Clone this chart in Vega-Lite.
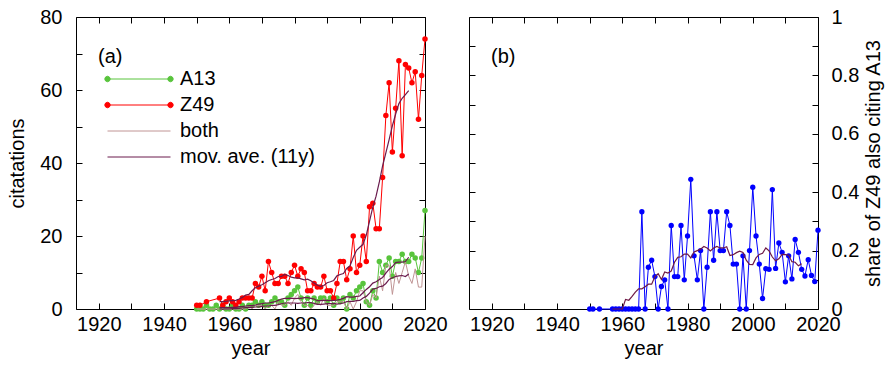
{
  "$schema": "https://vega.github.io/schema/vega-lite/v6.json",
  "padding": {"left": 7, "top": 6, "right": 5, "bottom": 5},
  "background": "white",
  "spacing": 44,
  "bounds": "flush",
  "config": {
    "view": {"stroke": "black", "strokeWidth": 1},
    "font": "Liberation Sans",
    "axis": {"labelFont": "Liberation Sans", "labelFontSize": 20, "titleFont": "Liberation Sans", "titleFontSize": 20, "titleFontWeight": "normal", "labelColor": "black", "titleColor": "black", "tickColor": "black", "tickWidth": 1, "tickSize": -6, "domain": false, "grid": false, "labelFlush": false, "labelOverlap": false}
  },
  "resolve": {"scale": {"color": "independent"}, "legend": {"color": "independent"}},
  "datasets": {
    "cites": [
      {"year":1950,"series":"A13","value":0},{"year":1951,"series":"A13","value":0},{"year":1952,"series":"A13","value":0},{"year":1953,"series":"A13","value":1},{"year":1954,"series":"A13","value":0},{"year":1955,"series":"A13","value":0},{"year":1956,"series":"A13","value":1},{"year":1957,"series":"A13","value":0},{"year":1958,"series":"A13","value":1},{"year":1959,"series":"A13","value":0},
      {"year":1960,"series":"A13","value":0},{"year":1961,"series":"A13","value":1},{"year":1962,"series":"A13","value":0},{"year":1963,"series":"A13","value":0},{"year":1964,"series":"A13","value":1},{"year":1965,"series":"A13","value":0},{"year":1966,"series":"A13","value":1},{"year":1967,"series":"A13","value":1},{"year":1968,"series":"A13","value":2},{"year":1969,"series":"A13","value":1},
      {"year":1970,"series":"A13","value":2},{"year":1971,"series":"A13","value":1},{"year":1972,"series":"A13","value":1},{"year":1973,"series":"A13","value":2},{"year":1974,"series":"A13","value":3},{"year":1975,"series":"A13","value":2},{"year":1976,"series":"A13","value":2},{"year":1977,"series":"A13","value":1},{"year":1978,"series":"A13","value":3},{"year":1979,"series":"A13","value":4},
      {"year":1980,"series":"A13","value":5},{"year":1981,"series":"A13","value":6},{"year":1982,"series":"A13","value":3},{"year":1983,"series":"A13","value":1},{"year":1984,"series":"A13","value":3},{"year":1985,"series":"A13","value":1},{"year":1986,"series":"A13","value":3},{"year":1987,"series":"A13","value":2},{"year":1988,"series":"A13","value":3},{"year":1989,"series":"A13","value":3},
      {"year":1990,"series":"A13","value":2},{"year":1991,"series":"A13","value":3},{"year":1992,"series":"A13","value":1},{"year":1993,"series":"A13","value":3},{"year":1994,"series":"A13","value":2},{"year":1995,"series":"A13","value":3},{"year":1996,"series":"A13","value":0},{"year":1997,"series":"A13","value":4},{"year":1998,"series":"A13","value":3},{"year":1999,"series":"A13","value":5},
      {"year":2000,"series":"A13","value":6},{"year":2001,"series":"A13","value":7},{"year":2002,"series":"A13","value":2},{"year":2003,"series":"A13","value":1},{"year":2004,"series":"A13","value":5},{"year":2005,"series":"A13","value":3},{"year":2006,"series":"A13","value":13},{"year":2007,"series":"A13","value":10},{"year":2008,"series":"A13","value":12},{"year":2009,"series":"A13","value":14},
      {"year":2010,"series":"A13","value":9},{"year":2011,"series":"A13","value":13},{"year":2012,"series":"A13","value":13},{"year":2013,"series":"A13","value":15},{"year":2014,"series":"A13","value":13},{"year":2015,"series":"A13","value":13},{"year":2016,"series":"A13","value":15},{"year":2017,"series":"A13","value":14},{"year":2018,"series":"A13","value":10},{"year":2019,"series":"A13","value":14},{"year":2020,"series":"A13","value":27},
      {"year":1950,"series":"Z49","value":1},{"year":1951,"series":"Z49","value":1},{"year":1953,"series":"Z49","value":2},{"year":1957,"series":"Z49","value":3},{"year":1958,"series":"Z49","value":1},{"year":1959,"series":"Z49","value":2},
      {"year":1960,"series":"Z49","value":3},{"year":1961,"series":"Z49","value":2},{"year":1962,"series":"Z49","value":1},{"year":1963,"series":"Z49","value":2},{"year":1964,"series":"Z49","value":3},{"year":1965,"series":"Z49","value":3},{"year":1966,"series":"Z49","value":3},{"year":1967,"series":"Z49","value":3},{"year":1968,"series":"Z49","value":7},{"year":1969,"series":"Z49","value":6},
      {"year":1970,"series":"Z49","value":9},{"year":1971,"series":"Z49","value":5},{"year":1972,"series":"Z49","value":13},{"year":1973,"series":"Z49","value":10},{"year":1974,"series":"Z49","value":7},{"year":1975,"series":"Z49","value":7},{"year":1976,"series":"Z49","value":9},{"year":1977,"series":"Z49","value":9},{"year":1978,"series":"Z49","value":7},{"year":1979,"series":"Z49","value":10},
      {"year":1980,"series":"Z49","value":12},{"year":1981,"series":"Z49","value":9},{"year":1982,"series":"Z49","value":11},{"year":1983,"series":"Z49","value":10},{"year":1984,"series":"Z49","value":5},{"year":1985,"series":"Z49","value":5},{"year":1986,"series":"Z49","value":7},{"year":1987,"series":"Z49","value":6},{"year":1988,"series":"Z49","value":6},{"year":1989,"series":"Z49","value":9},
      {"year":1990,"series":"Z49","value":5},{"year":1991,"series":"Z49","value":5},{"year":1992,"series":"Z49","value":3},{"year":1993,"series":"Z49","value":7},{"year":1994,"series":"Z49","value":13},{"year":1995,"series":"Z49","value":13},{"year":1996,"series":"Z49","value":8},{"year":1997,"series":"Z49","value":11},{"year":1998,"series":"Z49","value":20},{"year":1999,"series":"Z49","value":10},
      {"year":2000,"series":"Z49","value":12},{"year":2001,"series":"Z49","value":20},{"year":2002,"series":"Z49","value":13},{"year":2003,"series":"Z49","value":28},{"year":2004,"series":"Z49","value":29},{"year":2005,"series":"Z49","value":22},{"year":2006,"series":"Z49","value":22},{"year":2007,"series":"Z49","value":36},{"year":2008,"series":"Z49","value":53},{"year":2009,"series":"Z49","value":62},
      {"year":2010,"series":"Z49","value":43},{"year":2011,"series":"Z49","value":55},{"year":2012,"series":"Z49","value":68},{"year":2013,"series":"Z49","value":42},{"year":2014,"series":"Z49","value":67},{"year":2015,"series":"Z49","value":66},{"year":2016,"series":"Z49","value":62},{"year":2017,"series":"Z49","value":65},{"year":2018,"series":"Z49","value":52},{"year":2019,"series":"Z49","value":64},{"year":2020,"series":"Z49","value":74},
      {"year":1950,"series":"both","value":0},{"year":1951,"series":"both","value":0},{"year":1953,"series":"both","value":0},{"year":1957,"series":"both","value":0},{"year":1958,"series":"both","value":0},{"year":1959,"series":"both","value":0},
      {"year":1960,"series":"both","value":0},{"year":1961,"series":"both","value":0},{"year":1962,"series":"both","value":0},{"year":1963,"series":"both","value":0},{"year":1964,"series":"both","value":0},{"year":1965,"series":"both","value":0},{"year":1966,"series":"both","value":1},{"year":1967,"series":"both","value":0},{"year":1968,"series":"both","value":1},{"year":1969,"series":"both","value":1},
      {"year":1970,"series":"both","value":1},{"year":1971,"series":"both","value":0},{"year":1972,"series":"both","value":1},{"year":1973,"series":"both","value":1},{"year":1974,"series":"both","value":0},{"year":1975,"series":"both","value":2},{"year":1976,"series":"both","value":1},{"year":1977,"series":"both","value":1},{"year":1978,"series":"both","value":2},{"year":1979,"series":"both","value":1},
      {"year":1980,"series":"both","value":3},{"year":1981,"series":"both","value":4},{"year":1982,"series":"both","value":2},{"year":1983,"series":"both","value":1},{"year":1984,"series":"both","value":1},{"year":1985,"series":"both","value":0},{"year":1986,"series":"both","value":1},{"year":1987,"series":"both","value":2},{"year":1988,"series":"both","value":1},{"year":1989,"series":"both","value":3},
      {"year":1990,"series":"both","value":1},{"year":1991,"series":"both","value":1},{"year":1992,"series":"both","value":1},{"year":1993,"series":"both","value":2},{"year":1994,"series":"both","value":2},{"year":1995,"series":"both","value":2},{"year":1996,"series":"both","value":0},{"year":1997,"series":"both","value":2},{"year":1998,"series":"both","value":0},{"year":1999,"series":"both","value":2},
      {"year":2000,"series":"both","value":5},{"year":2001,"series":"both","value":5},{"year":2002,"series":"both","value":2},{"year":2003,"series":"both","value":1},{"year":2004,"series":"both","value":4},{"year":2005,"series":"both","value":3},{"year":2006,"series":"both","value":9},{"year":2007,"series":"both","value":5},{"year":2008,"series":"both","value":12},{"year":2009,"series":"both","value":12},
      {"year":2010,"series":"both","value":4},{"year":2011,"series":"both","value":10},{"year":2012,"series":"both","value":7},{"year":2013,"series":"both","value":10},{"year":2014,"series":"both","value":13},{"year":2015,"series":"both","value":9},{"year":2016,"series":"both","value":7},{"year":2017,"series":"both","value":11},{"year":2018,"series":"both","value":6},{"year":2019,"series":"both","value":6},{"year":2020,"series":"both","value":20}
    ],
    "ma": [
      {"year":1957,"of":"Z49","value":2.0},{"year":1958,"of":"Z49","value":2.0},{"year":1959,"of":"Z49","value":2.13},{"year":1960,"of":"Z49","value":2.22},{"year":1961,"of":"Z49","value":2.3},{"year":1962,"of":"Z49","value":2.36},{"year":1963,"of":"Z49","value":2.73},{"year":1964,"of":"Z49","value":3.18},{"year":1965,"of":"Z49","value":3.82},{"year":1966,"of":"Z49","value":4.0},{"year":1967,"of":"Z49","value":5.0},{"year":1968,"of":"Z49","value":5.82},{"year":1969,"of":"Z49","value":6.27},
      {"year":1970,"of":"Z49","value":6.64},{"year":1971,"of":"Z49","value":7.18},{"year":1972,"of":"Z49","value":7.73},{"year":1973,"of":"Z49","value":8.09},{"year":1974,"of":"Z49","value":8.36},{"year":1975,"of":"Z49","value":8.91},{"year":1976,"of":"Z49","value":8.91},{"year":1977,"of":"Z49","value":9.45},{"year":1978,"of":"Z49","value":9.18},{"year":1979,"of":"Z49","value":8.73},
      {"year":1980,"of":"Z49","value":8.55},{"year":1981,"of":"Z49","value":8.55},{"year":1982,"of":"Z49","value":8.27},{"year":1983,"of":"Z49","value":8.0},{"year":1984,"of":"Z49","value":8.18},{"year":1985,"of":"Z49","value":7.73},{"year":1986,"of":"Z49","value":7.09},{"year":1987,"of":"Z49","value":6.55},{"year":1988,"of":"Z49","value":6.18},{"year":1989,"of":"Z49","value":6.45},
      {"year":1990,"of":"Z49","value":7.18},{"year":1991,"of":"Z49","value":7.45},{"year":1992,"of":"Z49","value":7.82},{"year":1993,"of":"Z49","value":9.09},{"year":1994,"of":"Z49","value":9.45},{"year":1995,"of":"Z49","value":9.73},{"year":1996,"of":"Z49","value":11.09},{"year":1997,"of":"Z49","value":11.82},{"year":1998,"of":"Z49","value":14.09},{"year":1999,"of":"Z49","value":16.09},
      {"year":2000,"of":"Z49","value":16.91},{"year":2001,"of":"Z49","value":17.73},{"year":2002,"of":"Z49","value":20.27},{"year":2003,"of":"Z49","value":24.09},{"year":2004,"of":"Z49","value":27.91},{"year":2005,"of":"Z49","value":30.91},{"year":2006,"of":"Z49","value":34.82},{"year":2007,"of":"Z49","value":39.18},{"year":2008,"of":"Z49","value":42.8},{"year":2009,"of":"Z49","value":46.4},
      {"year":2010,"of":"Z49","value":50.2},{"year":2011,"of":"Z49","value":53.4},{"year":2012,"of":"Z49","value":56.27},{"year":2013,"of":"Z49","value":57.73},{"year":2014,"of":"Z49","value":58.73},{"year":2015,"of":"Z49","value":59.82},
      {"year":1957,"of":"A13","value":0.36},{"year":1958,"of":"A13","value":0.36},{"year":1959,"of":"A13","value":0.36},{"year":1960,"of":"A13","value":0.36},{"year":1961,"of":"A13","value":0.45},{"year":1962,"of":"A13","value":0.45},{"year":1963,"of":"A13","value":0.64},{"year":1964,"of":"A13","value":0.64},{"year":1965,"of":"A13","value":0.82},{"year":1966,"of":"A13","value":0.91},{"year":1967,"of":"A13","value":0.91},{"year":1968,"of":"A13","value":1.09},{"year":1969,"of":"A13","value":1.36},
      {"year":1970,"of":"A13","value":1.45},{"year":1971,"of":"A13","value":1.64},{"year":1972,"of":"A13","value":1.64},{"year":1973,"of":"A13","value":1.82},{"year":1974,"of":"A13","value":2.0},{"year":1975,"of":"A13","value":2.36},{"year":1976,"of":"A13","value":2.73},{"year":1977,"of":"A13","value":2.91},{"year":1978,"of":"A13","value":2.91},{"year":1979,"of":"A13","value":3.0},
      {"year":1980,"of":"A13","value":2.82},{"year":1981,"of":"A13","value":2.91},{"year":1982,"of":"A13","value":2.91},{"year":1983,"of":"A13","value":3.09},{"year":1984,"of":"A13","value":3.09},{"year":1985,"of":"A13","value":2.91},{"year":1986,"of":"A13","value":2.73},{"year":1987,"of":"A13","value":2.27},{"year":1988,"of":"A13","value":2.27},{"year":1989,"of":"A13","value":2.36},
      {"year":1990,"of":"A13","value":2.36},{"year":1991,"of":"A13","value":2.27},{"year":1992,"of":"A13","value":2.36},{"year":1993,"of":"A13","value":2.45},{"year":1994,"of":"A13","value":2.64},{"year":1995,"of":"A13","value":2.91},{"year":1996,"of":"A13","value":3.36},{"year":1997,"of":"A13","value":3.27},{"year":1998,"of":"A13","value":3.27},{"year":1999,"of":"A13","value":3.45},
      {"year":2000,"of":"A13","value":3.55},{"year":2001,"of":"A13","value":4.45},{"year":2002,"of":"A13","value":5.36},{"year":2003,"of":"A13","value":6.09},{"year":2004,"of":"A13","value":7.09},{"year":2005,"of":"A13","value":7.45},{"year":2006,"of":"A13","value":8.09},{"year":2007,"of":"A13","value":8.64},{"year":2008,"of":"A13","value":9.82},{"year":2009,"of":"A13","value":10.91},
      {"year":2010,"of":"A13","value":11.64},{"year":2011,"of":"A13","value":12.73},{"year":2012,"of":"A13","value":12.82},{"year":2013,"of":"A13","value":12.82},{"year":2014,"of":"A13","value":13.0},{"year":2015,"of":"A13","value":14.18},
      {"year":1957,"of":"both","value":0},{"year":1958,"of":"both","value":0},{"year":1959,"of":"both","value":0},{"year":1960,"of":"both","value":0},{"year":1961,"of":"both","value":0.1},{"year":1962,"of":"both","value":0.09},{"year":1963,"of":"both","value":0.18},{"year":1964,"of":"both","value":0.27},{"year":1965,"of":"both","value":0.36},{"year":1966,"of":"both","value":0.36},{"year":1967,"of":"both","value":0.45},{"year":1968,"of":"both","value":0.55},{"year":1969,"of":"both","value":0.55},
      {"year":1970,"of":"both","value":0.73},{"year":1971,"of":"both","value":0.82},{"year":1972,"of":"both","value":0.82},{"year":1973,"of":"both","value":1.0},{"year":1974,"of":"both","value":1.0},{"year":1975,"of":"both","value":1.18},{"year":1976,"of":"both","value":1.45},{"year":1977,"of":"both","value":1.64},{"year":1978,"of":"both","value":1.64},{"year":1979,"of":"both","value":1.64},
      {"year":1980,"of":"both","value":1.64},{"year":1981,"of":"both","value":1.55},{"year":1982,"of":"both","value":1.64},{"year":1983,"of":"both","value":1.64},{"year":1984,"of":"both","value":1.73},{"year":1985,"of":"both","value":1.73},{"year":1986,"of":"both","value":1.55},{"year":1987,"of":"both","value":1.27},{"year":1988,"of":"both","value":1.27},{"year":1989,"of":"both","value":1.36},
      {"year":1990,"of":"both","value":1.45},{"year":1991,"of":"both","value":1.45},{"year":1992,"of":"both","value":1.55},{"year":1993,"of":"both","value":1.36},{"year":1994,"of":"both","value":1.45},{"year":1995,"of":"both","value":1.64},{"year":1996,"of":"both","value":2.0},{"year":1997,"of":"both","value":2.09},{"year":1998,"of":"both","value":2.09},{"year":1999,"of":"both","value":2.27},
      {"year":2000,"of":"both","value":2.36},{"year":2001,"of":"both","value":3.0},{"year":2002,"of":"both","value":3.45},{"year":2003,"of":"both","value":4.36},{"year":2004,"of":"both","value":5.45},{"year":2005,"of":"both","value":5.64},{"year":2006,"of":"both","value":6.09},{"year":2007,"of":"both","value":6.27},{"year":2008,"of":"both","value":7.0},{"year":2009,"of":"both","value":8.09},
      {"year":2010,"of":"both","value":8.55},{"year":2011,"of":"both","value":8.91},{"year":2012,"of":"both","value":9.09},{"year":2013,"of":"both","value":9.18},{"year":2014,"of":"both","value":8.9},{"year":2015,"of":"both","value":9.6}
    ],
    "share": [
      {"year":1950,"share":0},{"year":1951,"share":0},{"year":1953,"share":0},{"year":1957,"share":0},{"year":1958,"share":0},{"year":1959,"share":0},{"year":1960,"share":0},{"year":1961,"share":0},{"year":1962,"share":0},{"year":1963,"share":0},{"year":1964,"share":0},{"year":1965,"share":0},
      {"year":1966,"share":0.333},{"year":1967,"share":0},{"year":1968,"share":0.143},{"year":1969,"share":0.167},{"year":1970,"share":0.111},{"year":1971,"share":0},{"year":1972,"share":0.077},{"year":1973,"share":0.1},{"year":1974,"share":0},{"year":1975,"share":0.286},{"year":1976,"share":0.111},{"year":1977,"share":0.111},{"year":1978,"share":0.286},{"year":1979,"share":0.1},
      {"year":1980,"share":0.25},{"year":1981,"share":0.444},{"year":1982,"share":0.182},{"year":1983,"share":0.1},{"year":1984,"share":0.2},{"year":1985,"share":0},{"year":1986,"share":0.143},{"year":1987,"share":0.333},{"year":1988,"share":0.167},{"year":1989,"share":0.333},
      {"year":1990,"share":0.2},{"year":1991,"share":0.2},{"year":1992,"share":0.333},{"year":1993,"share":0.286},{"year":1994,"share":0.154},{"year":1995,"share":0.154},{"year":1996,"share":0},{"year":1997,"share":0.182},{"year":1998,"share":0},{"year":1999,"share":0.2},
      {"year":2000,"share":0.417},{"year":2001,"share":0.25},{"year":2002,"share":0.154},{"year":2003,"share":0.036},{"year":2004,"share":0.138},{"year":2005,"share":0.136},{"year":2006,"share":0.409},{"year":2007,"share":0.139},{"year":2008,"share":0.226},{"year":2009,"share":0.194},
      {"year":2010,"share":0.093},{"year":2011,"share":0.182},{"year":2012,"share":0.103},{"year":2013,"share":0.238},{"year":2014,"share":0.194},{"year":2015,"share":0.136},{"year":2016,"share":0.113},{"year":2017,"share":0.169},{"year":2018,"share":0.115},{"year":2019,"share":0.094},{"year":2020,"share":0.27}
    ],
    "sharema": [
      {"year":1957,"share":0},{"year":1958,"share":0},{"year":1959,"share":0},{"year":1960,"share":0},{"year":1961,"share":0.033},{"year":1962,"share":0.03},{"year":1963,"share":0.043},{"year":1964,"share":0.058},{"year":1965,"share":0.069},{"year":1966,"share":0.069},{"year":1967,"share":0.076},{"year":1968,"share":0.085},{"year":1969,"share":0.085},
      {"year":1970,"share":0.111},{"year":1971,"share":0.121},{"year":1972,"share":0.101},{"year":1973,"share":0.127},{"year":1974,"share":0.123},{"year":1975,"share":0.13},{"year":1976,"share":0.16},{"year":1977,"share":0.177},{"year":1978,"share":0.179},{"year":1979,"share":0.188},
      {"year":1980,"share":0.188},{"year":1981,"share":0.175},{"year":1982,"share":0.195},{"year":1983,"share":0.2},{"year":1984,"share":0.205},{"year":1985,"share":0.214},{"year":1986,"share":0.209},{"year":1987,"share":0.199},{"year":1988,"share":0.209},{"year":1989,"share":0.214},
      {"year":1990,"share":0.209},{"year":1991,"share":0.209},{"year":1992,"share":0.213},{"year":1993,"share":0.183},{"year":1994,"share":0.186},{"year":1995,"share":0.193},{"year":1996,"share":0.198},{"year":1997,"share":0.194},{"year":1998,"share":0.167},{"year":1999,"share":0.153},
      {"year":2000,"share":0.152},{"year":2001,"share":0.175},{"year":2002,"share":0.187},{"year":2003,"share":0.191},{"year":2004,"share":0.209},{"year":2005,"share":0.199},{"year":2006,"share":0.178},{"year":2007,"share":0.165},{"year":2008,"share":0.172},{"year":2009,"share":0.187},
      {"year":2010,"share":0.186},{"year":2011,"share":0.184},{"year":2012,"share":0.162},{"year":2013,"share":0.16},{"year":2014,"share":0.148},{"year":2015,"share":0.155}
    ]
  },
  "hconcat": [
    {
      "width": 349,
      "height": 292,
      "title": {"text": "(a)", "orient": "top", "anchor": "start", "frame": "group", "offset": -70, "dx": 22, "baseline": "middle", "font": "Liberation Sans", "fontSize": 20, "fontWeight": "normal", "color": "black"},
      "resolve": {"axis": {"x": "independent", "y": "independent"}},
      "layer": [
        {
          "data": {"name": "cites"},
          "transform": [{"filter": {"field": "series", "oneOf": ["A13", "Z49"]}}],
          "mark": {"type": "line", "strokeWidth": 1},
          "encoding": {
            "x": {"field": "year", "type": "quantitative", "scale": {"domain": [1913, 2020], "nice": false, "zero": false},
                  "axis": {"orient": "bottom", "values": [1920,1930,1940,1950,1960,1970,1980,1990,2000,2010,2020], "labelExpr": "datum.value % 20 == 0 ? datum.value : ''", "labelPadding": 11, "title": "year", "titlePadding": 4}},
            "y": {"field": "value", "type": "quantitative", "scale": {"domain": [0, 80], "nice": false},
                  "axis": {"orient": "left", "values": [0,10,20,30,40,50,60,70,80], "labelExpr": "datum.value % 20 == 0 ? datum.value : ''", "labelPadding": 20, "title": "citatations", "titlePadding": 12}},
            "color": {"field": "series", "type": "nominal",
                      "scale": {"domain": ["A13", "Z49", "both", "mov. ave. (11y)"], "range": ["#58c43c", "#ff0000", "#c09494", "#6a1b4d"]},
                      "legend": {"orient": "none", "legendX": 53, "legendY": 52, "title": null, "padding": 0,
                                 "labelFont": "Liberation Sans", "labelFontSize": 20, "labelColor": "black",
                                 "symbolSize": 100, "symbolOffset": 0, "labelOffset": 31, "rowPadding": 6,
                                 "encode": {"symbols": {"update": {
                                   "shape": {"signal": "datum.value == 'A13' || datum.value == 'Z49' ? 'M-6.3,0L6.3,0M-5.75,0L-5.91,0.39L-6.3,0.55L-6.69,0.39L-6.85,0L-6.69,-0.39L-6.3,-0.55L-5.91,-0.39ZM6.85,0L6.69,0.39L6.3,0.55L5.91,0.39L5.75,0L5.91,-0.39L6.3,-0.55L6.69,-0.39Z' : 'M-6.3,0L6.3,0'"},
                                   "fill": {"signal": "datum.value == 'A13' ? '#58c43c' : datum.value == 'Z49' ? '#ff0000' : 'transparent'"},
                                   "stroke": {"signal": "datum.value == 'A13' ? '#58c43c' : datum.value == 'Z49' ? '#ff0000' : datum.value == 'both' ? '#c09494' : '#6a1b4d'"},
                                   "strokeWidth": {"value": 1},
                                   "opacity": {"value": 1},
                                   "fillOpacity": {"value": 1},
                                   "strokeOpacity": {"value": 1}
                                 }}}}}
          }
        },
        {
          "data": {"name": "cites"},
          "transform": [{"filter": {"field": "series", "oneOf": ["A13", "Z49"]}}],
          "mark": {"type": "circle", "size": 30, "opacity": 1},
          "encoding": {
            "x": {"field": "year", "type": "quantitative", "axis": null},
            "y": {"field": "value", "type": "quantitative", "axis": null},
            "color": {"field": "series", "type": "nominal", "legend": null}
          }
        },
        {
          "data": {"name": "cites"},
          "transform": [{"filter": {"field": "series", "equal": "both"}}],
          "mark": {"type": "line", "strokeWidth": 1},
          "encoding": {
            "x": {"field": "year", "type": "quantitative", "axis": {"orient": "top", "values": [1920,1930,1940,1950,1960,1970,1980,1990,2000,2010,2020], "labels": false, "title": null}},
            "y": {"field": "value", "type": "quantitative", "axis": {"orient": "right", "values": [0,10,20,30,40,50,60,70,80], "labels": false, "title": null}},
            "color": {"field": "series", "type": "nominal", "legend": null}
          }
        },
        {
          "data": {"name": "ma"},
          "mark": {"type": "line", "strokeWidth": 1.2, "color": "#6a1b4d"},
          "encoding": {
            "x": {"field": "year", "type": "quantitative", "axis": null},
            "y": {"field": "value", "type": "quantitative", "axis": null},
            "detail": {"field": "of", "type": "nominal"}
          }
        }
      ]
    },
    {
      "width": 349,
      "height": 292,
      "title": {"text": "(b)", "orient": "top", "anchor": "start", "frame": "group", "offset": -70, "dx": 22, "baseline": "middle", "font": "Liberation Sans", "fontSize": 20, "fontWeight": "normal", "color": "black"},
      "resolve": {"axis": {"x": "independent", "y": "independent"}},
      "layer": [
        {
          "data": {"name": "share"},
          "mark": {"type": "line", "strokeWidth": 1, "color": "#0000ff", "point": {"filled": true, "size": 28, "color": "#0000ff", "opacity": 1}},
          "encoding": {
            "x": {"field": "year", "type": "quantitative", "scale": {"domain": [1913, 2020], "nice": false, "zero": false},
                  "axis": {"orient": "bottom", "values": [1920,1930,1940,1950,1960,1970,1980,1990,2000,2010,2020], "labelExpr": "datum.value % 20 == 0 ? datum.value : ''", "labelPadding": 11, "title": "year", "titlePadding": 4}},
            "y": {"field": "share", "type": "quantitative", "scale": {"domain": [0, 1], "nice": false},
                  "axis": {"orient": "right", "values": [0,0.1,0.2,0.3,0.4,0.5,0.6,0.7,0.8,0.9,1], "format": "~g", "labelExpr": "round(datum.value * 10) % 2 == 0 ? datum.label : ''", "labelPadding": 19, "title": "share of Z49 also citing A13", "titleAngle": 270, "titleBaseline": "top", "titlePadding": 5}}
          }
        },
        {
          "data": {"name": "sharema"},
          "mark": {"type": "line", "strokeWidth": 1.2, "color": "#6e1a46"},
          "encoding": {
            "x": {"field": "year", "type": "quantitative", "axis": {"orient": "top", "values": [1920,1930,1940,1950,1960,1970,1980,1990,2000,2010,2020], "labels": false, "title": null}},
            "y": {"field": "share", "type": "quantitative", "axis": {"orient": "left", "values": [0,0.1,0.2,0.3,0.4,0.5,0.6,0.7,0.8,0.9,1], "labels": false, "title": null}}
          }
        }
      ]
    }
  ]
}
